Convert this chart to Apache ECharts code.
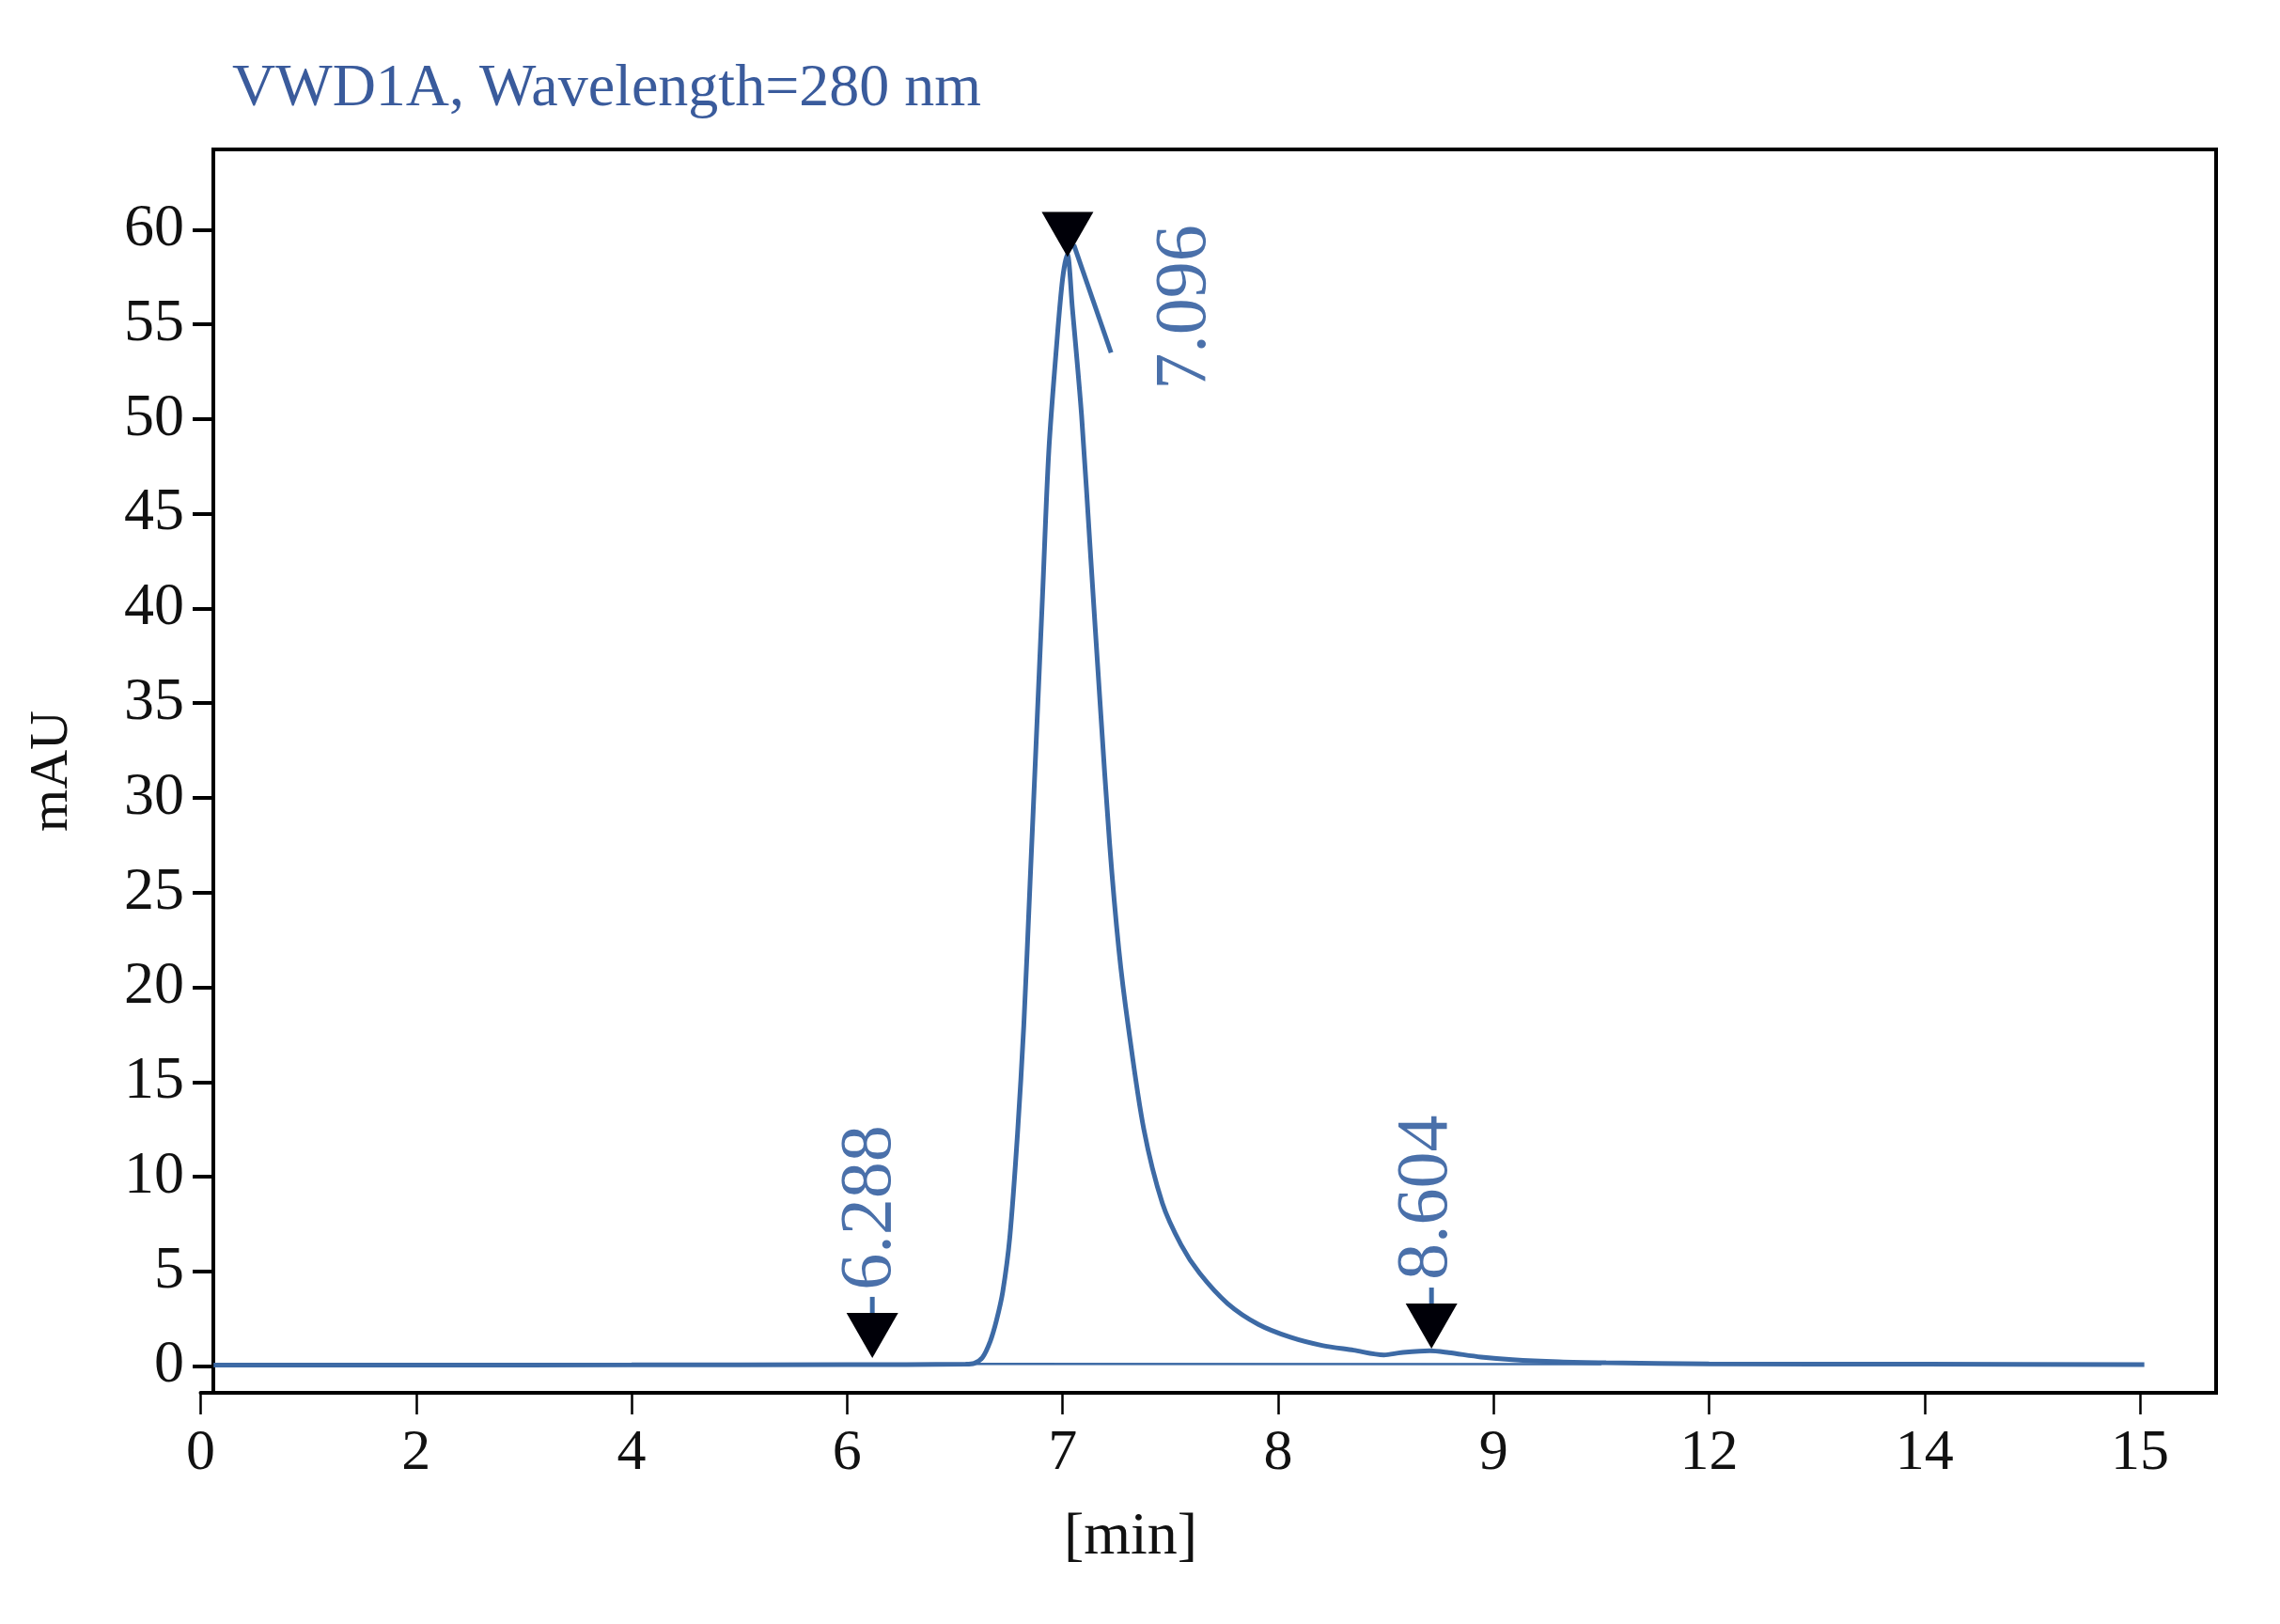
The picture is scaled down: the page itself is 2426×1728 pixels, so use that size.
<!DOCTYPE html>
<html>
<head>
<meta charset="utf-8">
<script src="https://cdn.jsdelivr.net/npm/echarts@6/dist/echarts.min.js"></script>
<style>
html,body{margin:0;padding:0;background:#fff;}
#chart{width:2426px;height:1728px;}
</style>
</head>
<body>
<div id="chart"></div>
<script>
// ---- data (x in tick-index units: 0..9 map to the tick labels below) ----
const xTickLabels = ['0','2','4','6','7','8','9','12','14','15'];
const yTickValues = [0,5,10,15,20,25,30,35,40,45,50,55,60];

const signalX = [0.06,1.0,2.0,3.0,3.55,3.59,3.628,3.664,3.693,3.722,3.755,3.791,3.820,3.849,3.878,3.907,3.936,3.973,4.000,4.022,4.045,4.088,4.131,4.174,4.218,4.261,4.304,4.377,4.463,4.550,4.636,4.766,4.909,5.058,5.204,5.350,5.491,5.571,5.704,5.792,5.942,6.087,6.304,6.522,7.0,8.0,9.02];
const signalY = [0.05,0.05,0.06,0.08,0.1,0.15,0.45,1.3,2.4,3.9,6.8,12.3,18.0,25.5,33.1,40.7,48.3,54.0,57.4,58.7,55.9,50.2,42.6,35.0,27.6,22.0,18.0,12.5,8.6,6.4,4.9,3.3,2.2,1.52,1.09,0.84,0.59,0.71,0.81,0.71,0.48,0.34,0.23,0.18,0.12,0.10,0.08];

const baselineX = [3.59, 6.5];
const baselineY = [0.12, 0.10];

const tangentX = [4.052, 4.225];
const tangentY = [59.2, 53.5];

const peakNames = ['6.288','7.096','8.604'];
const peakX = [3.117, 4.023, 5.712];
const peakY = [0.43, 58.55, 0.92];
const peakHasStick = [true, false, true];
const peakLabelX = [3.109, 4.571, 5.690];
const peakLabelY = [8.36, 55.9, 8.9];

// ---- chart ----
const FONT = 'Liberation Serif';
const LINE_COLOR = '#3d6aa5';
const LABEL_COLOR = '#4a70aa';
const Y_MIN = -1.41, Y_MAX = 64.23, X_MAX = 9.353;

const chart = echarts.init(document.getElementById('chart'), null, {renderer:'canvas'});

const curve = signalX.map((x,i)=>[x, signalY[i]]);
const baseline = baselineX.map((x,i)=>[x, baselineY[i]]);
const tangent = tangentX.map((x,i)=>[x, tangentY[i]]);
const markers = peakX.map((x,i)=>[x, peakY[i]]);
const sticks = peakX.map((x,i)=>peakHasStick[i] ? [x, peakY[i]] : null).filter(d=>d);
const labels = peakLabelX.map((x,i)=>({name: peakNames[i], value:[x, peakLabelY[i]]}));

const option = {
  backgroundColor: '#ffffff',
  animation: false,
  title: {
    text: 'VWD1A, Wavelength=280 nm',
    left: 247, top: 63, padding: 0,
    textStyle: {fontFamily: FONT, fontSize: 64, fontWeight: 'normal', color: '#3a5b9c'}
  },
  graphic: [{
    type: 'text', x: 1203, y: 1636,
    style: {text: '[min]', font: '64px "Liberation Serif"', fill: '#111', align: 'center', verticalAlign: 'middle', textAlign: 'center', textVerticalAlign: 'middle'}
  }],
  grid: [
    {left: 213.5, right: 68, top: 159, bottom: 246, show: false},
    {left: 227, right: 68, top: 159, bottom: 246, show: true, borderColor: '#000', borderWidth: 4, backgroundColor: 'transparent'}
  ],
  xAxis: [
    {
      type: 'value', gridIndex: 0, min: 0, max: X_MAX,
      splitLine: {show: false},
      axisLine: {show: true, onZero: false, lineStyle: {color: '#000', width: 4}},
      axisTick: {show: true, length: 23, customValues: [0,1,2,3,4,5,6,7,8,9], lineStyle: {color: '#000', width: 2.5}},
      axisLabel: {show: true, margin: 34, customValues: [0,1,2,3,4,5,6,7,8,9],
        formatter: v => xTickLabels[Math.round(v)],
        fontFamily: FONT, fontSize: 62, color: '#111'}
    },
    {type: 'value', gridIndex: 1, min: 0, max: 1, show: false}
  ],
  yAxis: [
    {type: 'value', gridIndex: 0, min: Y_MIN, max: Y_MAX, show: false},
    {
      type: 'value', gridIndex: 1, min: Y_MIN, max: Y_MAX,
      name: 'mAU', nameLocation: 'middle', nameGap: 142,
      nameTextStyle: {fontFamily: FONT, fontSize: 58, color: '#111'},
      splitLine: {show: false},
      axisLine: {show: true, lineStyle: {color: '#000', width: 4}},
      axisTick: {show: true, length: 22, customValues: yTickValues, lineStyle: {color: '#000', width: 4}},
      axisLabel: {show: true, margin: 31, customValues: yTickValues,
        fontFamily: FONT, fontSize: 64, color: '#111'}
    }
  ],
  series: [
    {
      name: 'baseline', type: 'line', xAxisIndex: 0, yAxisIndex: 0,
      data: baseline, symbol: 'none', lineStyle: {color: LINE_COLOR, width: 2.5}, z: 2
    },
    {
      name: 'signal', type: 'line', xAxisIndex: 0, yAxisIndex: 0,
      data: curve, symbol: 'none', smooth: 0.3,
      lineStyle: {color: LINE_COLOR, width: 5}, z: 3
    },
    {
      name: 'tangent', type: 'line', xAxisIndex: 0, yAxisIndex: 0,
      data: tangent, symbol: 'none', lineStyle: {color: LINE_COLOR, width: 5}, z: 3
    },
    {
      name: 'sticks', type: 'scatter', xAxisIndex: 0, yAxisIndex: 0,
      data: sticks, symbol: 'rect', symbolSize: [5, 18], symbolOffset: [0, -56],
      itemStyle: {color: LINE_COLOR, opacity: 1}, z: 4
    },
    {
      name: 'markers', type: 'scatter', xAxisIndex: 0, yAxisIndex: 0,
      data: markers, symbol: 'path://M0,0 L56,0 L28,48 Z', symbolSize: [55, 48], symbolOffset: [0, -24],
      itemStyle: {color: '#000008', opacity: 1}, z: 5
    },
    {
      name: 'peakLabels', type: 'scatter', xAxisIndex: 0, yAxisIndex: 0,
      data: labels, symbol: 'circle', symbolSize: 2, itemStyle: {color: 'rgba(0,0,0,0)', opacity: 1},
      label: {show: true, position: 'inside', rotate: 90, formatter: '{b}',
        align: 'center', verticalAlign: 'middle',
        fontFamily: FONT, fontSize: 78, color: LABEL_COLOR},
      z: 6
    }
  ]
};
chart.setOption(option);
</script>
</body>
</html>
